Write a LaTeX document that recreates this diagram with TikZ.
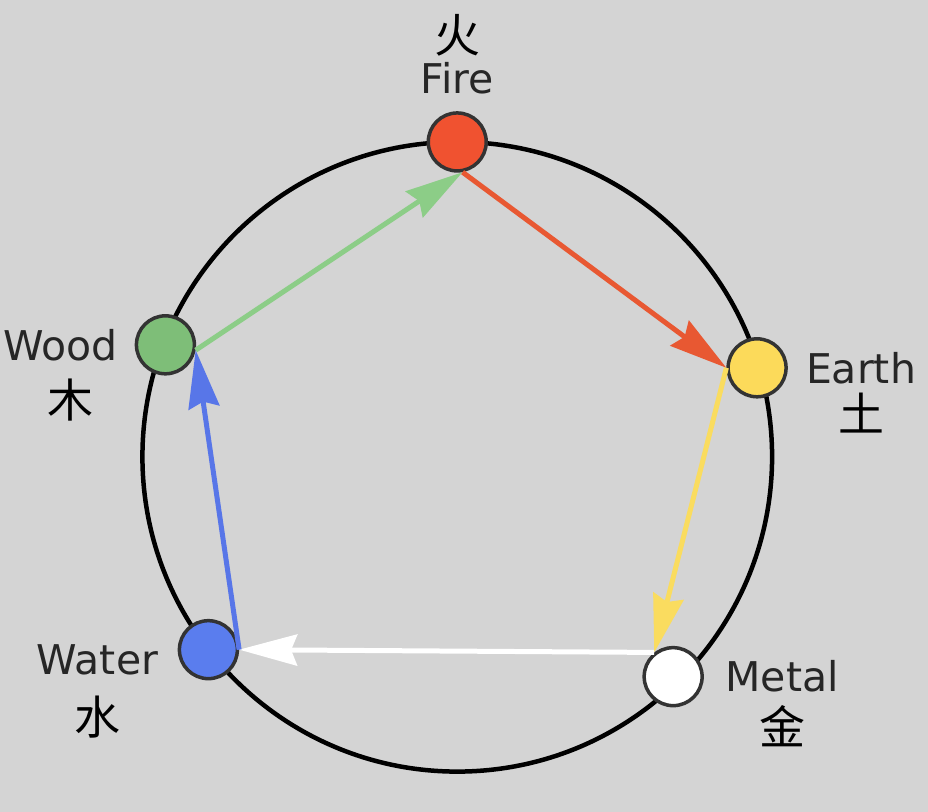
\documentclass[tikz,border=0pt]{standalone}
\usepackage{fontspec}
\setmainfont{DejaVu Sans}
\newfontfamily\cjk{Noto Sans CJK SC}
\usetikzlibrary{arrows.meta}
\definecolor{bggray}{RGB}{212,212,212}
\definecolor{firered}{RGB}{240,82,48}
\definecolor{earthyellow}{RGB}{252,218,90}
\definecolor{woodgreen}{RGB}{126,190,120}
\definecolor{waterblue}{RGB}{90,125,238}
\definecolor{greenarrow}{RGB}{140,205,135}
\definecolor{redarrow}{RGB}{232,88,50}
\definecolor{yellowarrow}{RGB}{250,220,95}
\definecolor{bluearrow}{RGB}{88,118,232}
\begin{document}
\begin{tikzpicture}[x=1pt,y=-1pt,
 main node/.style={circle,draw=black!80,line width=3.5pt,minimum size=58pt,inner sep=0pt},
 name label/.style={font=\fontsize{41}{41}\selectfont,text=black!85},
 hanzi/.style={font=\cjk\fontsize{46}{46}\selectfont},
 cycle edge/.style={line width=5pt,-{Stealth[length=58pt,width=31pt,inset=6pt]}}]

  \fill[bggray] (0,0) rectangle (928,812);
  \draw[line width=4.5pt] (457,457) circle[radius=315];

  \node[main node,fill=firered] (1) at (457,142) {};
  \node[main node,fill=earthyellow] (2) at (757,368) {};
  \node[main node,fill=white] (3) at (673,677) {};
  \node[main node,fill=waterblue] (4) at (208,650) {};
  \node[main node,fill=woodgreen] (5) at (165,345) {};

  \node[name label] (l1) [above of=1,node distance=64pt] {Fire};
  \node[hanzi] (c1) [above of=l1,node distance=43pt] {火};
  \node[name label] (l2) [right of=2,node distance=104pt] {Earth};
  \node[hanzi] (c2) [below of=l2,node distance=45pt] {土};
  \node[name label] (l3) [right of=3,node distance=109pt] {Metal};
  \node[hanzi] (c3) [below of=l3,node distance=50pt] {金};
  \node[name label] (l4) [left of=4,node distance=111pt,yshift=-10pt] {Water};
  \node[hanzi] (c4) [below of=l4,node distance=57pt] {水};
  \node[name label] (l5) [left of=5,node distance=105pt] {Wood};
  \node[hanzi] (c5) [below of=l5,node distance=55pt,xshift=10pt] {木};

  \path
     (5.-10) edge[cycle edge,draw=greenarrow] (1.-80)
     (1.-80) edge[cycle edge,draw=redarrow] (2.west)
     (2.west) edge[cycle edge,draw=yellowarrow] (3.128)
     (3.128) edge[cycle edge,draw=white] (4.east)
     (4.east) edge[cycle edge,draw=bluearrow] (5.-10);
\end{tikzpicture}
\end{document}
